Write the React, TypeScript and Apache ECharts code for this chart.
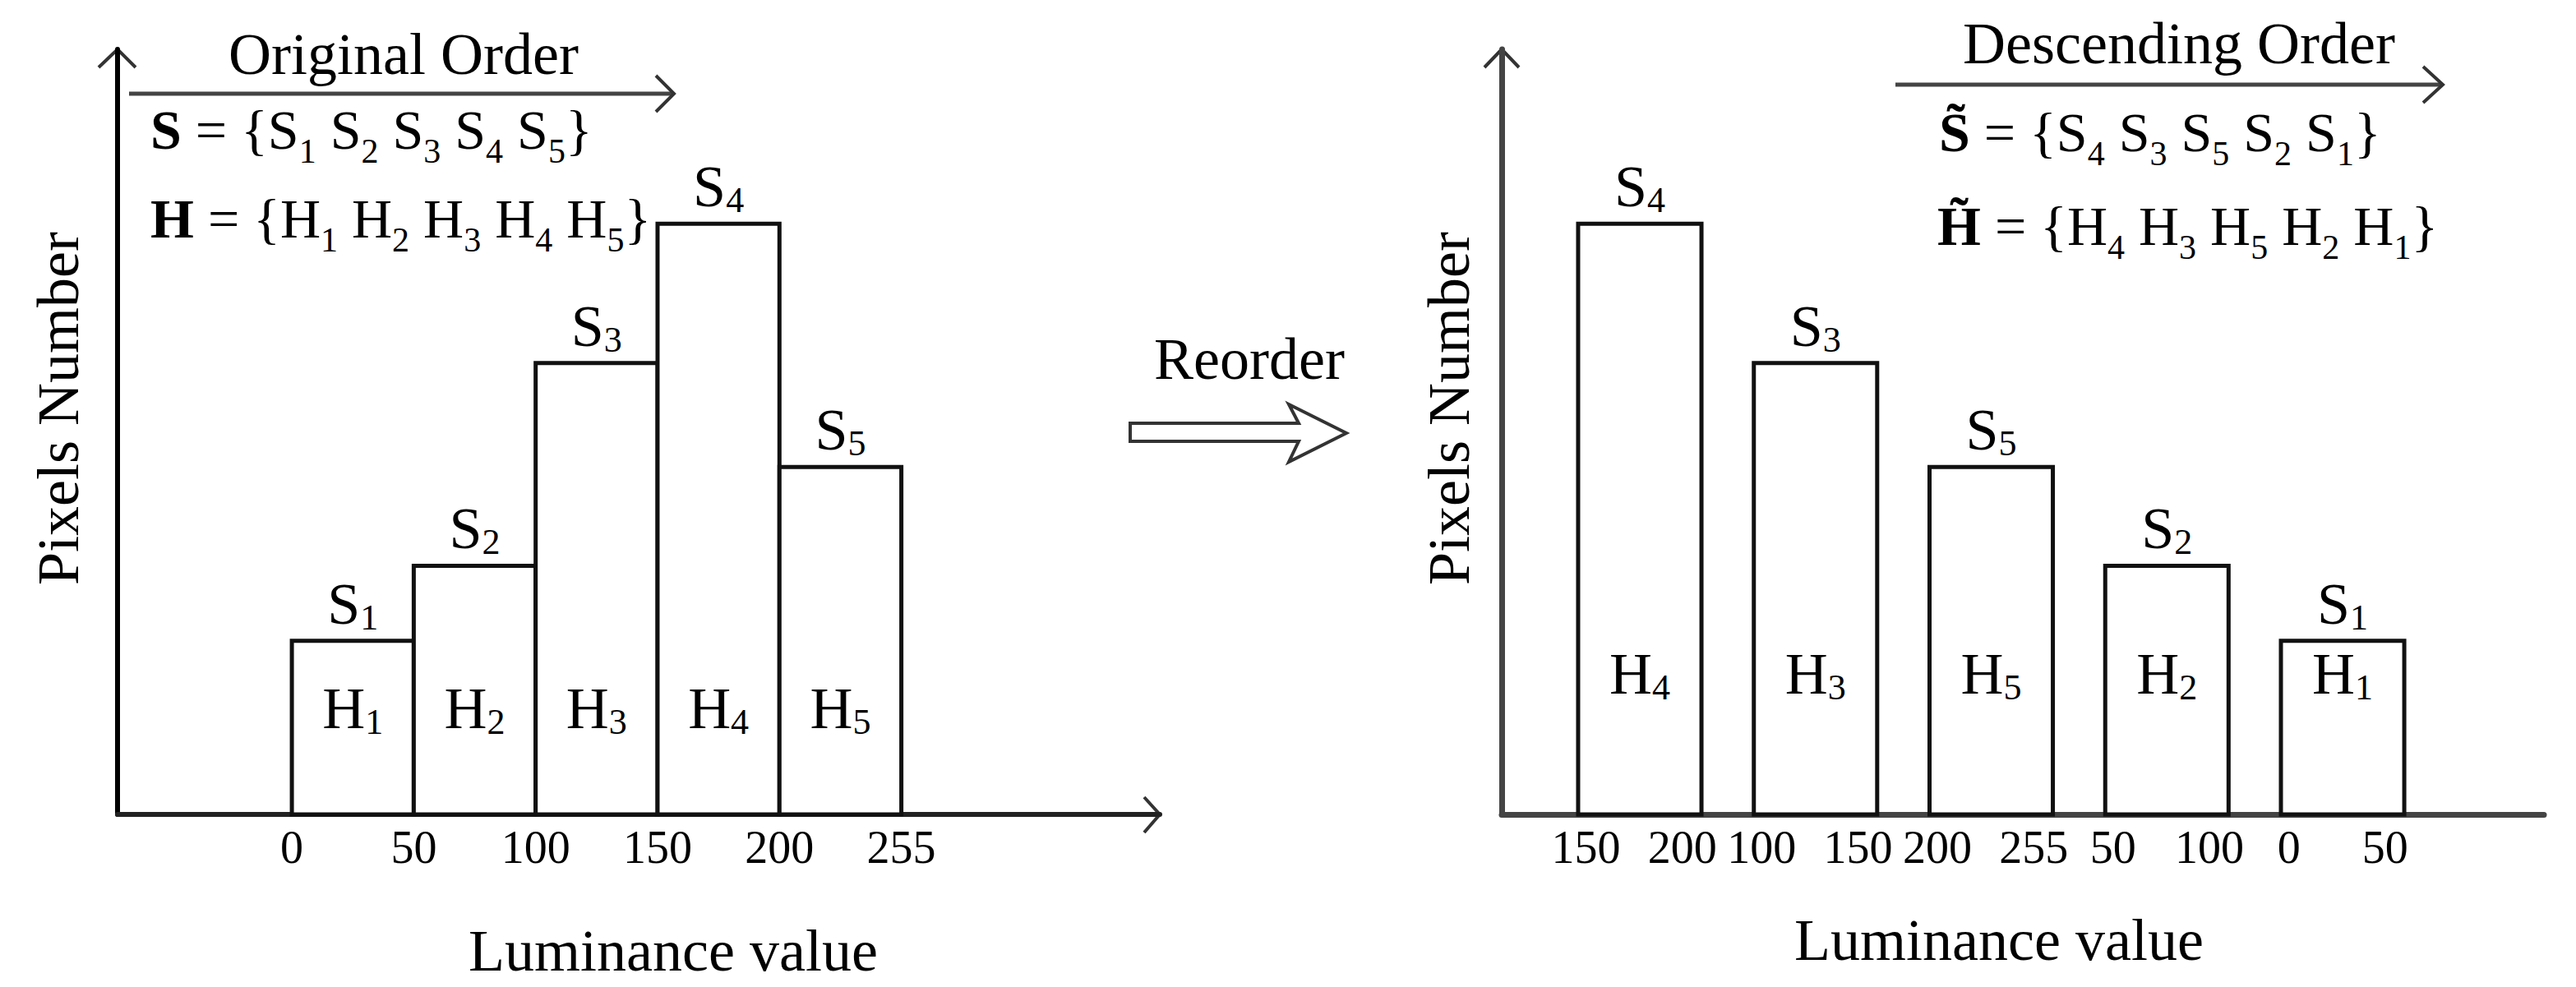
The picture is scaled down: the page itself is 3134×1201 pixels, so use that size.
import React, { useEffect, useRef } from "react";
import * as echarts from "echarts";

// ---- data ----
const binEdgeLabels = ["0", "50", "100", "150", "200", "255"];
const binNames = ["1", "2", "3", "4", "5"];
const pixelCounts = [22.7, 32.5, 59.0, 77.2, 45.4];
const descendingOrder = [3, 2, 4, 1, 0];
const yMax = 100;

const FONT = "'Liberation Serif', 'Times New Roman', serif";

const barRich = {
  m: { fontSize: 72, fontFamily: FONT, color: "#000", lineHeight: 72 },
  s: { fontSize: 44, fontFamily: FONT, color: "#000", padding: [33, 0, 0, 0] },
};

const formulaRich = {
  t: { fontSize: 68, fontFamily: FONT, color: "#000", lineHeight: 68 },
  bs: { fontSize: 68, fontFamily: FONT, color: "#000", lineHeight: 68, fontWeight: "bold" },
  sb: { fontSize: 42, fontFamily: FONT, color: "#000", padding: [52, 0, 0, 0] },
};

function makeRenderBar(barW: number, hLift: number) {
  return (params: any, api: any) => {
    const x = api.value(0);
    const v = api.value(1);
    const b = api.value(2);
    const p0 = api.coord([x, 0]);
    const p1 = api.coord([x + barW, v]);
    const left = p0[0];
    const right = p1[0];
    const top = p1[1];
    const base = p0[1];
    const cx = (left + right) / 2;
    const name = binNames[b];
    return {
      type: "group",
      children: [
        {
          type: "rect",
          shape: { x: left, y: top, width: right - left, height: base - top },
          style: { fill: "#fff", stroke: "#111", lineWidth: 5 },
        },
        {
          type: "text",
          x: cx,
          y: top - 45,
          style: {
            text: `{m|S}{s|${name}}`,
            rich: barRich,
            align: "center",
            verticalAlign: "middle",
            fill: "#000",
          },
        },
        {
          type: "text",
          x: cx,
          y: base - hLift,
          style: {
            text: `{m|H}{s|${name}}`,
            rich: barRich,
            align: "center",
            verticalAlign: "middle",
            fill: "#000",
          },
        },
      ],
    };
  };
}

function formula(sym: string, letter: string, order: number[]) {
  return (
    `{bs|${sym}}{t| = {}` +
    order.map((b) => `{t|${letter}}{sb|${binNames[b]}}`).join("{t| }") +
    "}"
  );
}

const rightLabelPositions: number[] = [];
descendingOrder.forEach((b, k) => {
  rightLabelPositions.push(k + 0.045, k + 0.593);
});

function plainText(text: string, x: number, y: number, extra: any = {}) {
  return {
    type: "text",
    x,
    y,
    ...extra,
    style: {
      text,
      fontSize: 72,
      fontFamily: FONT,
      fill: "#000",
      align: "center",
      verticalAlign: "middle",
      ...(extra.style || {}),
    },
  };
}

function chevron(points: number[][]) {
  return {
    type: "polyline",
    shape: { points },
    style: { stroke: "#333", lineWidth: 4, fill: null },
  };
}

export default function App() {
  const ref = useRef<HTMLDivElement>(null);
  useEffect(() => {
    if (!ref.current) return;
    const chart = echarts.init(ref.current, null, { renderer: "svg" });
    const axisCommon = {
      splitLine: { show: false },
      axisTick: { show: false },
    };
    const option: any = {
      animation: false,
      backgroundColor: "#fff",
      grid: [
        { left: 143, top: 60, width: 1268, height: 931, outerBoundsMode: "none" },
        { left: 1827, top: 60, width: 1268, height: 931, outerBoundsMode: "none" },
      ],
      xAxis: [
        {
          type: "value",
          gridIndex: 0,
          min: -1.43,
          max: 7.12,
          ...axisCommon,
          axisLine: { show: true, onZero: false, lineStyle: { color: "#222", width: 6 } },
          axisLabel: {
            customValues: [0, 1, 2, 3, 4, 5],
            formatter: (v: number) => binEdgeLabels[Math.round(v)],
            fontFamily: FONT,
            fontSize: 56,
            color: "#000",
            margin: 12,
          },
        },
        {
          type: "value",
          gridIndex: 1,
          min: -0.435,
          max: 5.497,
          ...axisCommon,
          axisLine: { show: true, onZero: false, lineStyle: { color: "#444", width: 7 } },
          axisLabel: {
            customValues: rightLabelPositions,
            formatter: (v: number) => {
              const k = Math.floor(v + 1e-9);
              const b = descendingOrder[k];
              return v - k < 0.3 ? binEdgeLabels[b] : binEdgeLabels[b + 1];
            },
            fontFamily: FONT,
            fontSize: 56,
            color: "#000",
            margin: 12,
          },
        },
      ],
      yAxis: [
        {
          type: "value",
          gridIndex: 0,
          min: 0,
          max: yMax,
          ...axisCommon,
          axisLabel: { show: false },
          axisLine: { show: true, onZero: false, lineStyle: { color: "#000", width: 6 } },
        },
        {
          type: "value",
          gridIndex: 1,
          min: 0,
          max: yMax,
          ...axisCommon,
          axisLabel: { show: false },
          axisLine: { show: true, onZero: false, lineStyle: { color: "#444", width: 7 } },
        },
      ],
      series: [
        {
          type: "custom",
          xAxisIndex: 0,
          yAxisIndex: 0,
          renderItem: makeRenderBar(1, 129),
          encode: { x: 0, y: 1 },
          data: binNames.map((n, i) => [i, pixelCounts[i], i]),
          z: 3,
        },
        {
          type: "custom",
          xAxisIndex: 1,
          yAxisIndex: 1,
          renderItem: makeRenderBar(0.702, 171),
          encode: { x: 0, y: 1 },
          data: descendingOrder.map((b, k) => [k, pixelCounts[b], b]),
          z: 3,
        },
      ],
      graphic: [
        // left panel annotations
        plainText("Original Order", 491, 66),
        { type: "line", shape: { x1: 157, y1: 114, x2: 820, y2: 114 }, style: { stroke: "#444", lineWidth: 5 } },
        chevron([[798, 92], [820, 114], [798, 136]]),
        {
          type: "text",
          x: 183,
          y: 158,
          style: { text: formula("S", "S", [0, 1, 2, 3, 4]), rich: formulaRich, fontSize: 68, fontFamily: FONT, fill: "#000", align: "left", verticalAlign: "middle" },
        },
        {
          type: "text",
          x: 183,
          y: 266,
          style: { text: formula("H", "H", [0, 1, 2, 3, 4]), rich: formulaRich, fontSize: 68, fontFamily: FONT, fill: "#000", align: "left", verticalAlign: "middle" },
        },
        chevron([[120, 82], [143, 60], [165, 82]]),
        chevron([[1392, 970], [1411, 991], [1392, 1013]]),
        plainText("Pixels Number", 71, 497, { rotation: Math.PI / 2 }),
        plainText("Luminance value", 819, 1157),
        // middle
        plainText("Reorder", 1520, 437),
        {
          type: "polygon",
          shape: {
            points: [
              [1375, 515], [1580, 515], [1568, 492], [1638, 527],
              [1568, 562], [1580, 537], [1375, 537],
            ],
          },
          style: { fill: "#fff", stroke: "#333", lineWidth: 4 },
        },
        // right panel annotations
        plainText("Descending Order", 2651, 53),
        { type: "line", shape: { x1: 2306, y1: 103, x2: 2972, y2: 103 }, style: { stroke: "#444", lineWidth: 5 } },
        chevron([[2948, 81], [2972, 103], [2948, 125]]),
        {
          type: "text",
          x: 2359,
          y: 161,
          style: { text: formula("S\u0303", "S", descendingOrder), rich: formulaRich, fontSize: 68, fontFamily: FONT, fill: "#000", align: "left", verticalAlign: "middle" },
        },
        {
          type: "text",
          x: 2357,
          y: 275,
          style: { text: formula("H\u0303", "H", descendingOrder), rich: formulaRich, fontSize: 68, fontFamily: FONT, fill: "#000", align: "left", verticalAlign: "middle" },
        },
        chevron([[1806, 82], [1827, 60], [1848, 82]]),
        plainText("Pixels Number", 1763, 497, { rotation: Math.PI / 2 }),
        plainText("Luminance value", 2432, 1144),
      ],
    };
    chart.setOption(option);
    return () => chart.dispose();
  }, []);
  return (
    <div
      ref={ref}
      style={{ position: "absolute", left: 0, top: 0, width: 3134, height: 1201, background: "#fff" }}
    />
  );
}
